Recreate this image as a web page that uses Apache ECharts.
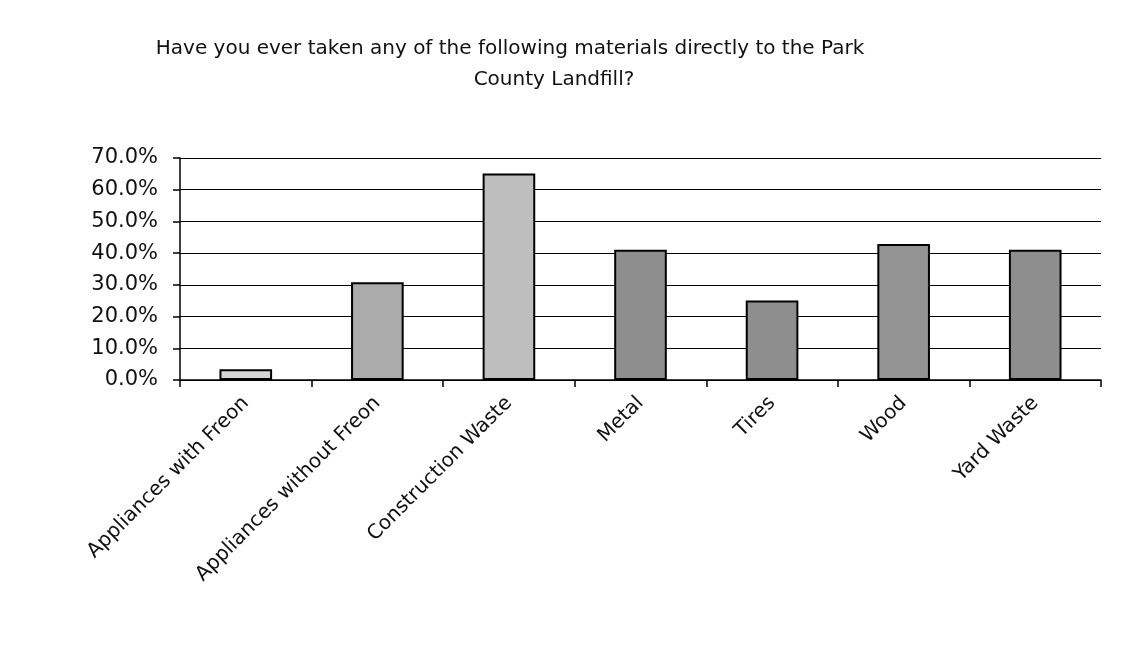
<!DOCTYPE html>
<html>
<head>
<meta charset="utf-8">
<title>Park County Landfill</title>
<script src="https://cdn.jsdelivr.net/npm/echarts@6/dist/echarts.min.js"></script>
<style>
  html, body { margin: 0; padding: 0; background: #fff; }
  #chart { width: 1125px; height: 656px; }
</style>
</head>
<body>
<div id="chart"></div>
<script>
// data
var categories = ['Appliances with Freon', 'Appliances without Freon', 'Construction Waste', 'Metal', 'Tires', 'Wood', 'Yard Waste'];
var percentValues = [3.4, 30.8, 65.1, 41.1, 25.1, 42.9, 41.1];
var yTicks = { min: 0, max: 70, step: 10 };

// scan gives each bar a slightly different gray
var barShades = ['#d4d4d4', '#ababab', '#bebebe', '#8e8e8e', '#8e8e8e', '#939393', '#8e8e8e'];

var chart = echarts.init(document.getElementById('chart'));
var font = 'DejaVu Sans';

chart.setOption({
  backgroundColor: '#fff',
  animation: false,
  title: [{
    text: 'Have you ever taken any of the following materials directly to the Park',
    left: 505,
    top: 34,
    textAlign: 'center',
    textStyle: { fontFamily: font, fontSize: 20, fontWeight: 'normal', color: '#111' }
  }, {
    text: 'County Landfill?',
    left: 549,
    top: 65,
    textAlign: 'center',
    textStyle: { fontFamily: font, fontSize: 20, fontWeight: 'normal', color: '#111' }
  }],
  grid: {
    left: 180,
    right: 24,
    top: 158,
    bottom: 276
  },
  xAxis: {
    type: 'category',
    data: categories,
    axisLine: { lineStyle: { color: '#000', width: 1.5 } },
    axisTick: { show: true, alignWithLabel: false, length: 7, lineStyle: { color: '#000', width: 1.5 } },
    axisLabel: {
      interval: 0,
      rotate: 45,
      margin: 20,
      fontFamily: font,
      fontSize: 20,
      color: '#111'
    }
  },
  yAxis: {
    type: 'value',
    min: yTicks.min,
    max: yTicks.max,
    interval: yTicks.step,
    axisLine: { show: true, lineStyle: { color: '#000', width: 1.5 } },
    axisTick: { show: true, length: 7, lineStyle: { color: '#000', width: 1.5 } },
    splitLine: { lineStyle: { color: '#000', width: 1.2 } },
    axisLabel: {
      margin: 22,
      fontFamily: font,
      fontSize: 21,
      color: '#111',
      formatter: function (v) { return v.toFixed(1) + '%'; }
    }
  },
  series: [{
    type: 'bar',
    barWidth: '40%',
    data: percentValues.map(function (v, i) {
      return {
        value: v,
        itemStyle: { color: barShades[i], borderColor: '#000', borderWidth: 2 }
      };
    })
  }]
});
</script>
</body>
</html>
